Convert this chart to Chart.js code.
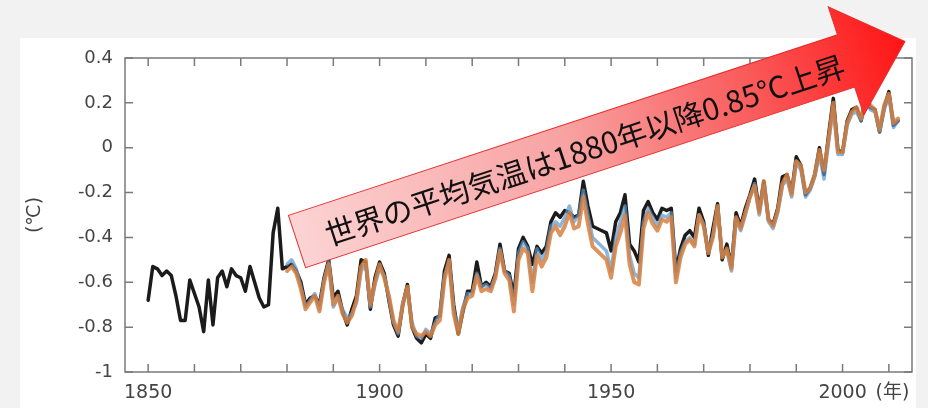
<!DOCTYPE html>
<html>
<head>
<meta charset="utf-8">
<script src="https://cdn.jsdelivr.net/npm/chart.js@4.4.1/dist/chart.umd.min.js"></script>
<style>
  html, body { margin: 0; padding: 0; background: #f2f2f2; }
  #wrap { width: 928px; height: 408px; }
</style>
</head>
<body>
<div id="wrap"><canvas id="graficoTemperatura" width="928" height="408"></canvas></div>
<script>
// 世界の年平均気温偏差 (℃)
const inicioNegro = 1850;
const serieNegra = [
  -0.68, -0.53, -0.54, -0.57, -0.55, -0.57, -0.66, -0.77, -0.77, -0.59,
  -0.65, -0.71, -0.82, -0.59, -0.79, -0.58, -0.55, -0.62, -0.54, -0.57,
  -0.58, -0.64, -0.53, -0.60, -0.67, -0.71, -0.70, -0.38, -0.27, -0.54,
  -0.53, -0.52, -0.55, -0.60, -0.70, -0.67, -0.66, -0.70, -0.58, -0.50,
  -0.67, -0.64, -0.73, -0.79, -0.72, -0.66, -0.50, -0.51, -0.72, -0.58,
  -0.51, -0.56, -0.68, -0.79, -0.84, -0.70, -0.61, -0.80, -0.85, -0.87,
  -0.83, -0.85, -0.76, -0.75, -0.55, -0.48, -0.70, -0.83, -0.73, -0.64,
  -0.64, -0.51, -0.62, -0.60, -0.62, -0.56, -0.43, -0.55, -0.56, -0.66,
  -0.45, -0.40, -0.44, -0.52, -0.44, -0.47, -0.44, -0.33, -0.29, -0.31,
  -0.28, -0.29, -0.31, -0.30, -0.15, -0.26, -0.35, -0.36, -0.37, -0.38,
  -0.46, -0.33, -0.29, -0.21, -0.43, -0.46, -0.51, -0.28, -0.24, -0.29,
  -0.32, -0.27, -0.28, -0.27, -0.55, -0.45, -0.39, -0.37, -0.40, -0.27,
  -0.33, -0.48, -0.36, -0.25, -0.50, -0.43, -0.53, -0.29, -0.35, -0.27,
  -0.21, -0.14, -0.28, -0.15, -0.32, -0.34, -0.27, -0.13, -0.12, -0.20,
  -0.04, -0.08, -0.21, -0.18, -0.12, 0.00, -0.12, 0.06, 0.22, -0.01,
  -0.02, 0.12, 0.17, 0.18, 0.12, 0.22, 0.18, 0.17, 0.07, 0.18,
  0.25, 0.10, 0.12
];

const inicioOtras = 1880;
const serieNaranja = [
  -0.55, -0.53, -0.56, -0.63, -0.72, -0.69, -0.66, -0.73, -0.60, -0.52,
  -0.70, -0.66, -0.74, -0.78, -0.75, -0.68, -0.53, -0.50, -0.70, -0.60,
  -0.52, -0.58, -0.66, -0.77, -0.82, -0.70, -0.62, -0.80, -0.83, -0.84,
  -0.82, -0.84, -0.79, -0.77, -0.59, -0.50, -0.74, -0.83, -0.72, -0.67,
  -0.66, -0.57, -0.64, -0.63, -0.64, -0.58, -0.46, -0.56, -0.59, -0.73,
  -0.50, -0.45, -0.47, -0.64, -0.48, -0.53, -0.49, -0.38, -0.35, -0.39,
  -0.35, -0.29, -0.36, -0.35, -0.22, -0.34, -0.44, -0.46, -0.48, -0.50,
  -0.58, -0.44, -0.38, -0.30, -0.52, -0.60, -0.61, -0.36, -0.29, -0.34,
  -0.37, -0.32, -0.33, -0.31, -0.60, -0.49, -0.43, -0.41, -0.44, -0.30,
  -0.35, -0.47, -0.40, -0.26, -0.49, -0.45, -0.54, -0.31, -0.36, -0.29,
  -0.22, -0.17, -0.29, -0.15, -0.32, -0.35, -0.28, -0.16, -0.12, -0.21,
  -0.06, -0.08, -0.20, -0.18, -0.12, -0.01, -0.10, 0.04, 0.20, -0.02,
  -0.02, 0.11, 0.16, 0.18, 0.13, 0.22, 0.19, 0.17, 0.08, 0.19,
  0.24, 0.11, 0.13
];
const serieAzul = [
  -0.52, -0.50, -0.54, -0.62, -0.71, -0.68, -0.65, -0.72, -0.59, -0.51,
  -0.71, -0.67, -0.72, -0.76, -0.74, -0.69, -0.55, -0.52, -0.71, -0.61,
  -0.54, -0.57, -0.67, -0.78, -0.83, -0.69, -0.63, -0.78, -0.84, -0.85,
  -0.81, -0.83, -0.78, -0.74, -0.57, -0.51, -0.72, -0.81, -0.71, -0.65,
  -0.65, -0.56, -0.62, -0.61, -0.63, -0.57, -0.45, -0.55, -0.57, -0.70,
  -0.47, -0.42, -0.45, -0.60, -0.45, -0.50, -0.46, -0.35, -0.33, -0.35,
  -0.31, -0.26, -0.33, -0.30, -0.19, -0.30, -0.40, -0.42, -0.44, -0.46,
  -0.55, -0.40, -0.33, -0.26, -0.48, -0.56, -0.58, -0.33, -0.27, -0.31,
  -0.35, -0.30, -0.31, -0.29, -0.58, -0.47, -0.42, -0.40, -0.43, -0.30,
  -0.34, -0.46, -0.39, -0.27, -0.48, -0.46, -0.55, -0.32, -0.37, -0.30,
  -0.22, -0.16, -0.30, -0.17, -0.33, -0.36, -0.29, -0.17, -0.14, -0.22,
  -0.06, -0.10, -0.22, -0.19, -0.13, -0.03, -0.14, 0.03, 0.18, -0.03,
  -0.03, 0.10, 0.15, 0.16, 0.12, 0.21, 0.17, 0.16, 0.07, 0.17,
  0.23, 0.09, 0.12
];

const ticksY = [-1, -0.8, -0.6, -0.4, -0.2, 0, 0.2, 0.4];
const etiquetasY = ["-1", "-0.8", "-0.6", "-0.4", "-0.2", "0", "0.2", "0.4"];
const ticksX = [1850, 1860, 1870, 1880, 1890, 1900, 1910, 1920, 1930, 1940, 1950, 1960, 1970, 1980, 1990, 2000, 2010];
const etiquetasX = [1850, 1900, 1950, 2000];
const mensaje = "世界の平均気温は1880年以降0.85℃上昇";

const aPuntos = (valores, inicio) => valores.map((v, i) => ({ x: inicio + i, y: v }));

const fuenteEjes = "'DejaVu Sans', Verdana, sans-serif";

// fondo, marco y ticks hacia dentro
const marco = {
  id: "marco",
  beforeDraw(chart) {
    const ctx = chart.ctx;
    ctx.save();
    ctx.fillStyle = "#f2f2f2";
    ctx.fillRect(0, 0, chart.width, chart.height);
    ctx.fillStyle = "#ffffff";
    ctx.fillRect(20, 38, 896, 370);
    ctx.restore();
  },
  afterDatasetsDraw(chart) {
    const { ctx, chartArea: a, scales } = chart;
    ctx.save();
    ctx.strokeStyle = "#7a7a7a";
    ctx.lineWidth = 1.5;
    ctx.strokeRect(a.left, a.top, a.right - a.left, a.bottom - a.top);
    ctx.beginPath();
    ticksX.forEach(v => {
      const x = scales.x.getPixelForValue(v);
      ctx.moveTo(x, a.bottom); ctx.lineTo(x, a.bottom - 8);
      ctx.moveTo(x, a.top); ctx.lineTo(x, a.top + 8);
    });
    ticksY.forEach(v => {
      const y = scales.y.getPixelForValue(v);
      ctx.moveTo(a.left, y); ctx.lineTo(a.left + 8, y);
      ctx.moveTo(a.right, y); ctx.lineTo(a.right - 8, y);
    });
    ctx.stroke();
    ctx.restore();
  },
  afterDraw(chart) {
    const { ctx, chartArea: a, scales } = chart;
    ctx.save();
    // unidades
    ctx.fillStyle = "#444";
    ctx.font = "19px " + fuenteEjes;
    ctx.textAlign = "center";
    ctx.textBaseline = "middle";
    ctx.save();
    ctx.translate(35, 215);
    ctx.rotate(-Math.PI / 2);
    ctx.fillText("(℃)", 0, 0);
    ctx.restore();
    ctx.font = "19px " + fuenteEjes + ", 'Noto Sans CJK JP'";
    ctx.textAlign = "left";
    ctx.fillText("(年)", scales.x.getPixelForValue(2000) + 33, a.bottom + 21);

    // flecha
    ctx.translate(297, 241.5);
    ctx.rotate(-18.2 * Math.PI / 180);
    const largo = 578, medio = 27.5, cabeza = 57, punta = 640;
    const grad = ctx.createLinearGradient(0, 0, punta, 0);
    grad.addColorStop(0, "#fcd3d3");
    grad.addColorStop(0.45, "#f8a2a2");
    grad.addColorStop(0.75, "#fa5a5a");
    grad.addColorStop(1, "#ff1414");
    ctx.beginPath();
    ctx.moveTo(0, -medio);
    ctx.lineTo(largo, -medio);
    ctx.lineTo(largo, -cabeza);
    ctx.lineTo(punta, 0);
    ctx.lineTo(largo, cabeza);
    ctx.lineTo(largo, medio);
    ctx.lineTo(0, medio);
    ctx.closePath();
    ctx.fillStyle = grad;
    ctx.fill();
    ctx.strokeStyle = "#e82a2a";
    ctx.lineWidth = 1;
    ctx.stroke();
    ctx.fillStyle = "#111";
    ctx.font = "30px 'Noto Sans CJK JP', sans-serif";
    ctx.textAlign = "center";
    ctx.textBaseline = "middle";
    ctx.fillText(mensaje, 302, 3);
    ctx.restore();
  }
};

new Chart(document.getElementById("graficoTemperatura"), {
  type: "line",
  data: {
    datasets: [
      {
        label: "NOAA",
        data: aPuntos(serieNaranja, inicioOtras),
        borderColor: "rgba(214, 128, 66, 0.85)",
        borderWidth: 4
      },
      {
        label: "NASA",
        data: aPuntos(serieAzul, inicioOtras),
        borderColor: "rgba(90, 150, 205, 0.7)",
        borderWidth: 3.5
      },
      {
        label: "HadCRUT4",
        data: aPuntos(serieNegra, inicioNegro),
        borderColor: "#1b1b1b",
        borderWidth: 3.5
      }
    ]
  },
  options: {
    responsive: false,
    animation: false,
    layout: { padding: { top: 58, right: 16, left: 0, bottom: 0 } },
    elements: {
      point: { radius: 0 },
      line: { tension: 0, borderJoinStyle: "round", borderCapStyle: "round" }
    },
    plugins: {
      legend: { display: false },
      tooltip: { enabled: false }
    },
    scales: {
      x: {
        type: "linear",
        min: 1845,
        max: 2015,
        afterBuildTicks: s => { s.ticks = ticksX.map(v => ({ value: v })); },
        afterFit: s => { s.height = 36; },
        grid: { display: false, drawTicks: false },
        border: { display: false },
        ticks: {
          autoSkip: false,
          maxRotation: 0,
          padding: 10,
          color: "#444",
          font: { family: fuenteEjes, size: 19 },
          callback: v => etiquetasX.includes(v) ? String(v) : ""
        }
      },
      y: {
        min: -1,
        max: 0.4,
        afterBuildTicks: s => { s.ticks = ticksY.map(v => ({ value: v })); },
        afterFit: s => { s.width = 125; },
        grid: { display: false, drawTicks: false },
        border: { display: false },
        ticks: {
          padding: 12,
          color: "#444",
          font: { family: fuenteEjes, size: 18 },
          callback: v => etiquetasY[ticksY.indexOf(v)]
        }
      }
    }
  },
  plugins: [marco]
});
</script>
</body>
</html>
